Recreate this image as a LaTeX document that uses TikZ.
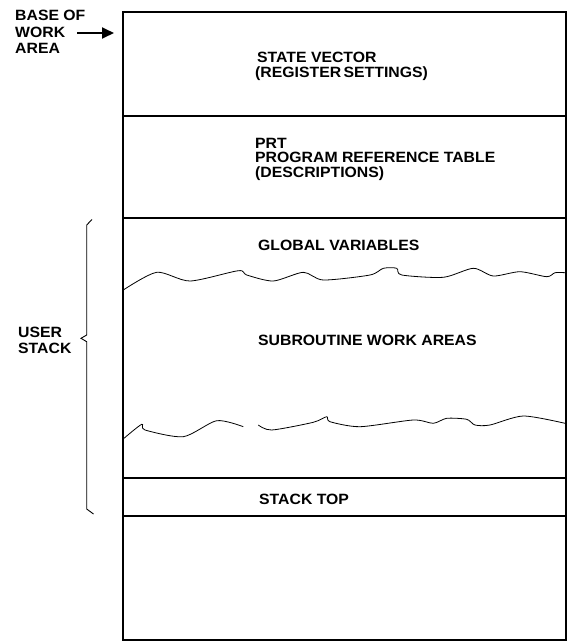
\documentclass[tikz,border=0pt]{standalone}
\usepackage{fontspec}
\setmainfont{Liberation Sans}[FakeStretch=1.06]
\usetikzlibrary{arrows.meta}
\begin{document}
\begin{tikzpicture}[x=1pt,y=-1pt,
  lbl/.style={anchor=base west,inner sep=0pt,text height=11pt,text depth=2pt,font=\bfseries\fontsize{14.9}{16}\selectfont},
  frame/.style={line width=1.3pt},
  wave/.style={line width=0.8pt,smooth,tension=0.45},
  bracel/.style={line width=0.9pt}]
\useasboundingbox (0,0) rectangle (568,643);
% outer box and dividers
\draw[frame] (123,12) rectangle (566,640);
\draw[frame] (123,116) -- (566,116);
\draw[frame] (123,218) -- (566,218);
\draw[frame] (123,478) -- (566,478);
\draw[frame] (123,516) -- (566,516);
% labels
\node[lbl] (base1) at (15,20) {BASE OF};
\node[lbl] (base2) at (15,37) {WORK};
\node[lbl] (base3) at (15,53) {AREA};
\coordinate (arrS) at (77,33);
\coordinate (arrE) at (114,33);
\draw[line width=1.8pt,-{Triangle[length=12pt,width=11pt]}] (arrS) -- (arrE);
\node[lbl] (sv1) at (257,62.5) {STATE VECTOR};
\node[lbl] (sv2) at (255,77.5) {(REGISTER\,SETTINGS)};
\node[lbl] (prt1) at (255,148) {PRT};
\node[lbl] (prt2) at (255,162.5) {PROGRAM REFERENCE TABLE};
\node[lbl] (prt3) at (255,177) {(DESCRIPTIONS)};
\node[lbl] (gv) at (258,250) {GLOBAL VARIABLES};
\node[lbl] (sw) at (258,345) {SUBROUTINE WORK AREAS};
\node[lbl] (us1) at (18,337) {USER};
\node[lbl] (us2) at (18,353) {STACK};
\node[lbl] (st) at (259,504) {STACK TOP};
% wavy boundaries
\draw[wave] plot coordinates {(123.3,290) (156.7,272.3) (190,281) (238.3,270.7) (246.7,275) (273.3,281) (303.3,272.3) (323.3,280) (370,275) (383.3,268.3) (396.7,268.3) (401.7,275) (443.3,277.3) (473.3,268.3) (493.3,276) (520,271.7) (546.7,276.7) (555,272.7) (565,272.7)};
\draw[wave] plot coordinates {(124,438.3) (141.7,424.3) (145,430) (183.3,436.7) (216.7,420.7) (243.3,426.7)};
\draw[wave] plot coordinates {(258.3,425) (271.7,430) (313.3,422.3) (326.7,416.7) (330,421.7) (360,426.7) (413.3,420) (433.3,423.3) (446.7,418.3) (466.7,419.3) (475,425) (490,425) (523.3,416) (565,423.3)};
% brace
\draw[bracel] (92,219.5) -- (86.7,225) -- (86.7,335) -- (81,338.3) -- (86.7,341.7) -- (86.7,509) -- (93.5,514);
\end{tikzpicture}
\end{document}
